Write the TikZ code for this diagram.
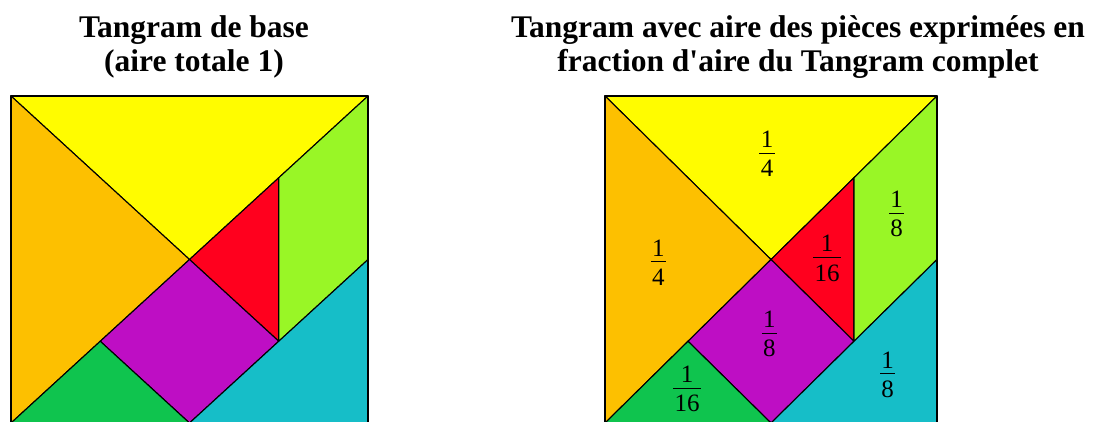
\documentclass[tikz,border=0pt]{standalone}
\usepackage{fontspec}
\setmainfont{Liberation Serif}[Ligatures=TeXOff]
\definecolor{cyel}{RGB}{255,252,0}
\definecolor{corange}{RGB}{253,192,0}
\definecolor{cred}{RGB}{255,0,30}
\definecolor{clime}{RGB}{153,246,38}
\definecolor{cpurple}{RGB}{190,14,196}
\definecolor{ccyan}{RGB}{22,190,200}
\definecolor{cgreen}{RGB}{15,196,78}
\newcommand\fr[2]{%
  \setbox0=\hbox{#1}\setbox2=\hbox{#2}%
  \dimen0=\wd0 \ifdim\wd2>\dimen0 \dimen0=\wd2 \fi
  \advance\dimen0 by 2.6pt
  \vbox{\hbox to\dimen0{\hss\box0\hss}\kern5.2pt\hrule height0.8pt\kern6.8pt\hbox to\dimen0{\hss\box2\hss}}}
\newcommand\tangram[4]{%
  \begin{scope}[shift={(#1,#2)},xscale=#3,yscale=#4]
    \path[piece,fill=cyel] (0,0) -- (1,0) -- (0.5,0.5) -- cycle;
    \path[piece,fill=corange] (0,0) -- (0.5,0.5) -- (0,1) -- cycle;
    \path[piece,fill=cred] (0.5,0.5) -- (0.75,0.25) -- (0.75,0.75) -- cycle;
    \path[piece,fill=clime] (1,0) -- (1,0.5) -- (0.75,0.75) -- (0.75,0.25) -- cycle;
    \path[piece,fill=cpurple] (0.5,0.5) -- (0.75,0.75) -- (0.5,1) -- (0.25,0.75) -- cycle;
    \path[piece,fill=ccyan] (1,0.5) -- (1,1) -- (0.5,1) -- cycle;
    \path[piece,fill=cgreen] (0.25,0.75) -- (0.5,1) -- (0,1) -- cycle;
    \path[piece] (0,0) rectangle (1,1);
  \end{scope}}
\begin{document}
\begin{tikzpicture}[x=1pt,y=-1pt,
  piece/.style={draw=black,line width=1.1pt,line join=round},
  titletext/.style={font=\bfseries\fontsize{31.5}{34}\selectfont,inner sep=0pt,anchor=base},
  frac/.style={font=\fontsize{25}{30}\selectfont,inner sep=0pt}]
\useasboundingbox (0,0) rectangle (1093,421);
\clip (0,0) rectangle (1093,421);
\fill[white] (0,0) rectangle (1093,421);
% titles
\node[titletext] (t1a) at (194,37) {Tangram de base};
\node[titletext] (t1b) at (194,71) {(aire totale 1)};
\node[titletext] (t2a) at (798,37) {Tangram avec aire des pièces exprimées en};
\node[titletext] (t2b) at (798,71) {fraction d'aire du Tangram complet};
% tangrams
\tangram{11}{96}{357}{327}
\tangram{605}{96}{332}{327}
% fractions
\node[frac] (fy) at (767,154.1) {\fr{1}{4}};
\node[frac] (fo) at (658.3,262.5) {\fr{1}{4}};
\node[frac] (fr) at (827,258.5) {\fr{1}{16}};
\node[frac] (fl) at (896.7,214.1) {\fr{1}{8}};
\node[frac] (fp) at (769.3,334.1) {\fr{1}{8}};
\node[frac] (fc) at (887.7,374.8) {\fr{1}{8}};
\node[frac] (fg) at (687,389.1) {\fr{1}{16}};
\end{tikzpicture}
\end{document}
